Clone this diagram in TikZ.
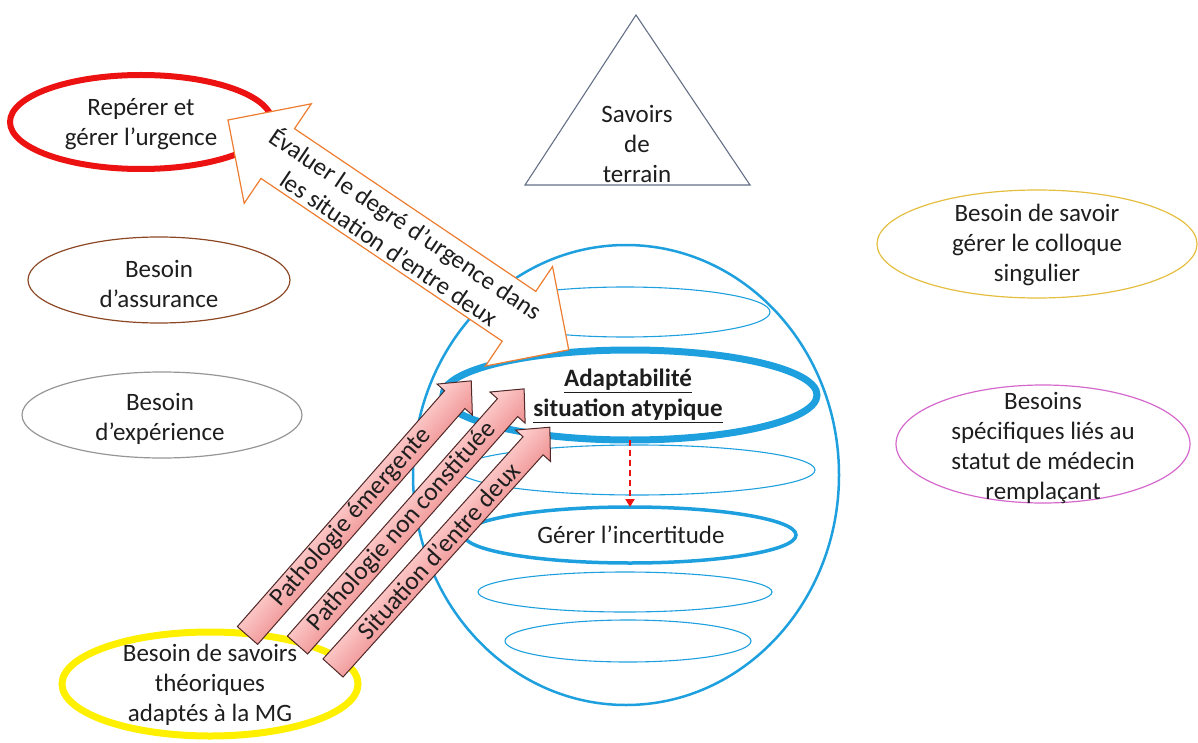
\documentclass[tikz,border=0pt]{standalone}
\usepackage{fontspec}
\setmainfont{Carlito}
\usetikzlibrary{shapes.geometric,arrows.meta}
\definecolor{skyblue}{RGB}{30,160,222}
\definecolor{urgred}{RGB}{236,18,18}
\definecolor{brightyellow}{RGB}{255,240,0}
\definecolor{rust}{RGB}{140,72,36}
\definecolor{stone}{RGB}{150,150,150}
\definecolor{gold}{RGB}{228,190,64}
\definecolor{orchid}{RGB}{212,104,204}
\definecolor{slate}{RGB}{100,112,135}
\definecolor{amber}{RGB}{237,125,49}
\definecolor{rose}{RGB}{238,142,142}
\definecolor{roselight}{RGB}{255,212,212}
\definecolor{roseedge}{RGB}{80,40,40}
\definecolor{ink}{RGB}{30,30,30}
\begin{document}
\begin{tikzpicture}[x=1pt,y=-1pt,
  oval/.style 2 args={ellipse,draw,inner sep=0pt,outer sep=0pt,
    minimum width=#1pt,minimum height=#2pt},
  txt/.style={font=\fontsize{25}{30}\selectfont,align=center,text=ink,inner sep=0pt},
  armtxt/.style={font=\fontsize{25.5}{30}\selectfont,text=ink,inner sep=0pt},
  pinkarm/.style={draw=roseedge,line width=1pt,top color=roselight,bottom color=rose},
]
\useasboundingbox (0,0) rectangle (1198,743);

% globe of levels
\node[oval={426}{460},draw=skyblue,line width=2.5pt] (globe) at (626,475) {};
\node[oval={290}{50},draw=skyblue,line width=1.1pt] (lvlA) at (625,312) {};
\node[oval={356}{50},draw=skyblue,line width=1.1pt] (lvlB) at (637,470) {};
\node[oval={294}{40},draw=skyblue,line width=1.1pt] (lvlC) at (625,592) {};
\node[oval={246}{42},draw=skyblue,line width=1.1pt] (lvlD) at (628,641) {};
\node[oval={374}{90},draw=skyblue,line width=7pt] (adapt) at (630,395) {};
\node[oval={332}{56},draw=skyblue,line width=3.5pt] (incert) at (630,535) {};
\node[txt,font=\fontsize{25}{30}\selectfont\bfseries] (adapttxt) at (628,396)
  {\underline{Adaptabilité}\\\underline{situation atypique}};
\node[txt] (incerttxt) at (631,535) {Gérer l’incertitude};
\draw[urgred,dashed,dash pattern=on 6pt off 4pt,line width=2pt,
  -{Triangle[length=8pt,width=9pt]}] (adapt.south) -- (incert.north);

% needs around the globe
\node[oval={262}{94},draw=urgred,line width=6pt] (urg) at (141,122) {};
\node[txt] (urgtxt) at (141,124) {Repérer et\\gérer l’urgence};
\node[oval={262}{86},draw=rust,line width=1.2pt] (assur) at (159,280) {};
\node[txt] (assurtxt) at (159,284) {Besoin\\d’assurance};
\node[oval={280}{86},draw=stone,line width=1.2pt] (exper) at (162,415) {};
\node[txt] (expertxt) at (160,419) {Besoin\\d’expérience};
\node[oval={296}{104},draw=brightyellow,line width=7pt] (theo) at (210,684) {};
\node[txt] (theotxt) at (210,685) {Besoin de savoirs\\théoriques\\adaptés à la MG};
\node[oval={320}{108},draw=gold,line width=1.2pt] (colloque) at (1037,244) {};
\node[txt] (colloquetxt) at (1037,245) {Besoin de savoir\\gérer le colloque\\singulier};
\node[oval={294}{118},draw=orchid,line width=1.2pt] (statut) at (1043,444) {};
\node[txt] (statuttxt) at (1043,448) {Besoins\\spécifiques liés au\\statut de médecin\\remplaçant};

% field knowledge
\draw[slate,line width=1.1pt] (636,15) coordinate (apex) -- (750,185) -- (525,185) -- cycle;
\node[txt] (terrain) at (637,144) {Savoirs\\de\\terrain};

% two-way arrow on urgency
\begin{scope}[shift={(228,120)},rotate=-34]
  \draw[amber,fill=white,line width=1.2pt,line join=miter]
    (0,0) -- (60,-60) -- (60,-30) -- (351,-30) -- (351,-60) -- (411,0)
    -- (351,60) -- (351,30) -- (60,30) -- (60,60) -- cycle;
  \node[txt,rotate=-34] (evaltxt) at (205.5,0)
    {Évaluer le degré d’urgence dans\\les situation d’entre deux};
\end{scope}

% three pushes toward adaptability: bodies shaded across their width
\begin{scope}[transform canvas={shift={(247.5pt,-635.5pt)},rotate=48.7}]
  \draw[pinkarm] (0,-13.5) -- (314,-13.5) -- (314,-23.5) -- (339,0)
    -- (314,23.5) -- (314,13.5) -- (0,13.5) -- cycle;
\end{scope}
\begin{scope}[transform canvas={shift={(297.5pt,-645pt)},rotate=48.5}]
  \draw[pinkarm] (0,-13.5) -- (317,-13.5) -- (317,-23.5) -- (342,0)
    -- (317,23.5) -- (317,13.5) -- (0,13.5) -- cycle;
\end{scope}
\begin{scope}[transform canvas={shift={(333pt,-668pt)},rotate=48}]
  \draw[pinkarm] (0,-13.5) -- (299,-13.5) -- (299,-23.5) -- (324,0)
    -- (299,23.5) -- (299,13.5) -- (0,13.5) -- cycle;
\end{scope}
% their labels
\begin{scope}[shift={(247.5,635.5)},rotate=48.7]
  \node[armtxt,rotate=48.7] (emerg) at (157,0) {Pathologie émergente};
\end{scope}
\begin{scope}[shift={(297.5,645)},rotate=48.5]
  \node[armtxt,rotate=48.5] (noncons) at (158,0) {Pathologie non constituée};
\end{scope}
\begin{scope}[shift={(333,668)},rotate=48]
  \node[armtxt,rotate=48] (entre) at (158,0) {Situation d’entre deux};
\end{scope}
\end{tikzpicture}
\end{document}
